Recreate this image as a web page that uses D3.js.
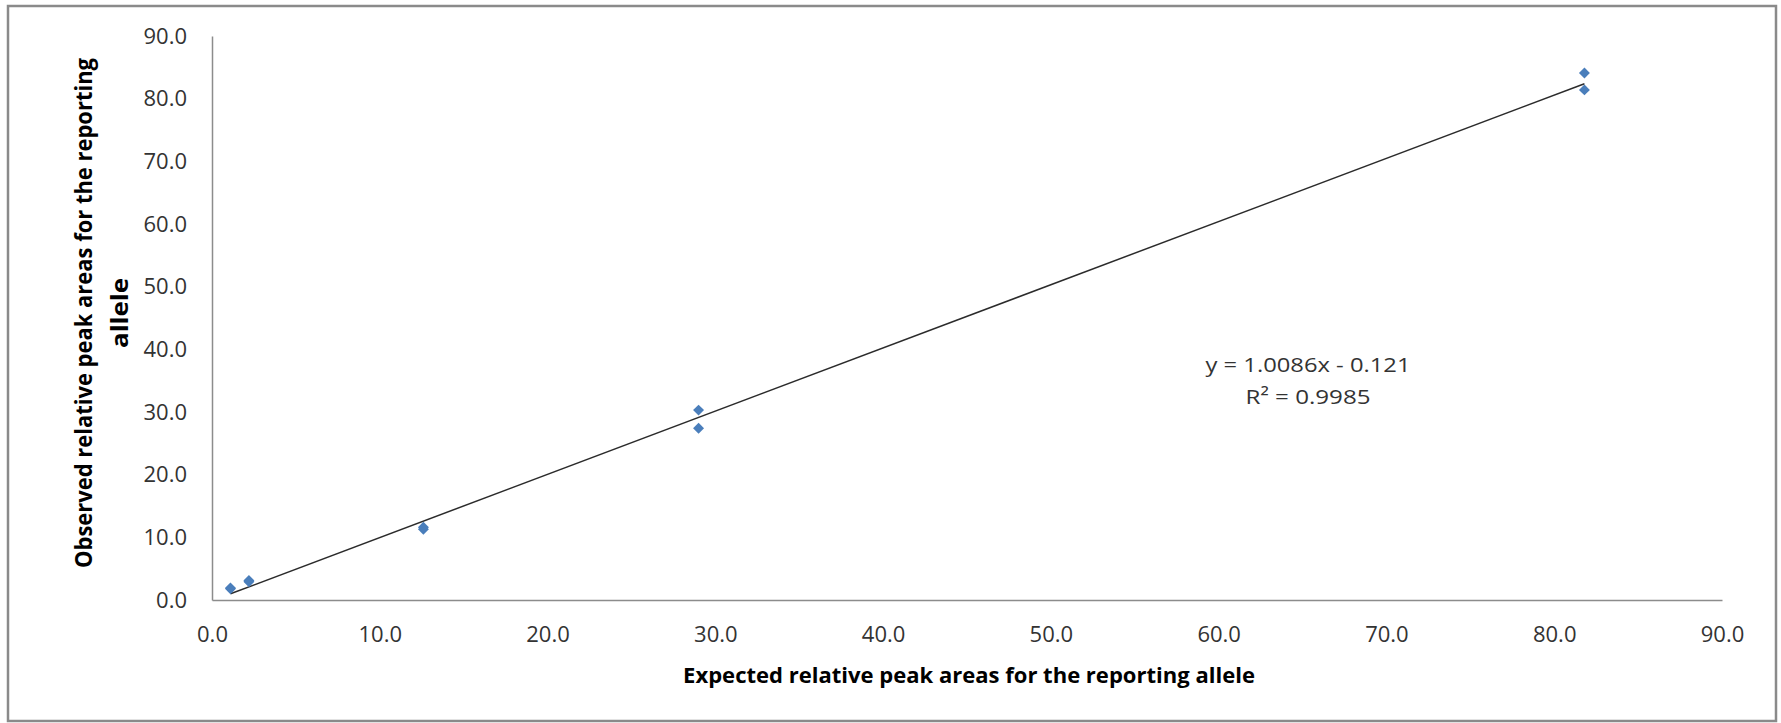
<!DOCTYPE html>
<html>
<head>
<meta charset="utf-8">
<script src="https://cdn.jsdelivr.net/npm/d3@7"></script>
<style>
  body { margin: 0; background: #fff; }
  .tick text { font-family: "Open Sans", sans-serif; fill: #333; }
  .axis-title { font-family: "Open Sans", sans-serif; font-weight: bold; fill: #000; }
  .eq-text { font-family: "Open Sans", sans-serif; fill: #333; }
</style>
</head>
<body>
<div id="chart"></div>
<script>
// chart size
var svgWidth = 1781;
var svgHeight = 723;

var margin = { top: 36, right: 59, bottom: 123, left: 212 };
var chartWidth = svgWidth - margin.left - margin.right;
var chartHeight = svgHeight - margin.top - margin.bottom;

// data
var expectedVals = [1.1, 1.1, 2.2, 2.2, 12.6, 12.6, 29.0, 29.0, 81.8, 81.8];
var observedVals = [1.8, 1.9, 2.9, 3.1, 11.3, 11.6, 30.3, 27.4, 84.1, 81.4];
var axisTicks = [0, 10, 20, 30, 40, 50, 60, 70, 80, 90];
var trendCoef = [1.0086, -0.121]; // slope, intercept
var eqLabels = ["y = 1.0086x - 0.121", "R\u00b2 = 0.9985"];
var xTitle = "Expected relative peak areas for the reporting allele";
var yTitleLines = ["Observed relative peak areas for the reporting", "allele"];

var svg = d3.select("#chart")
  .append("svg")
  .attr("width", svgWidth)
  .attr("height", svgHeight);

// outer frame
svg.append("rect")
  .attr("x", 8)
  .attr("y", 6)
  .attr("width", 1768)
  .attr("height", 715)
  .attr("fill", "none")
  .attr("stroke", "#8a8a8a")
  .attr("stroke-width", 2.5);

var chartGroup = svg.append("g")
  .attr("transform", `translate(${margin.left}, ${margin.top})`);

var xScale = d3.scaleLinear().domain([0, 90]).range([0, chartWidth]);
var yScale = d3.scaleLinear().domain([0, 90]).range([chartHeight, 0]);

var fmt = d3.format(".1f");

var xAxis = d3.axisBottom(xScale).tickValues(axisTicks).tickFormat(fmt)
  .tickSize(0).tickPadding(26);
var yAxis = d3.axisLeft(yScale).tickValues(axisTicks).tickFormat(fmt)
  .tickSize(0).tickPadding(25);

var gx = chartGroup.append("g")
  .attr("transform", `translate(0, ${chartHeight})`)
  .call(xAxis);
var gy = chartGroup.append("g")
  .call(yAxis);

[gx, gy].forEach(function(g) {
  g.select(".domain").attr("stroke", "#8c8c8c").attr("stroke-width", 1.5);
  g.selectAll(".tick text").style("font-size", "22px");
});

// trend line across the data range
var xExt = d3.extent(expectedVals);
var trendPts = xExt.map(function(x) { return [x, trendCoef[0] * x + trendCoef[1]]; });
chartGroup.append("path")
  .datum(trendPts)
  .attr("fill", "none")
  .attr("stroke", "#2b2b2b")
  .attr("stroke-width", 1.5)
  .attr("d", d3.line().x(d => xScale(d[0])).y(d => yScale(d[1])));

// diamond markers
var pts = expectedVals.map(function(x, i) { return { x: x, y: observedVals[i] }; });
chartGroup.append("g").selectAll("path")
  .data(pts)
  .enter()
  .append("path")
  .attr("d", d3.symbol().type(d3.symbolSquare).size(60))
  .attr("transform", d => `translate(${xScale(d.x)}, ${yScale(d.y)}) rotate(45)`)
  .attr("fill", "#4a7ebb");

// equation label
chartGroup.append("g").selectAll("text")
  .data(eqLabels)
  .enter()
  .append("text")
  .attr("class", "eq-text")
  .attr("x", 1096)
  .attr("y", (d, i) => 336 + i * 32)
  .attr("text-anchor", "middle")
  .style("font-size", "20px")
  .attr("textLength", (d, i) => i === 0 ? 205 : 125)
  .attr("lengthAdjust", "spacingAndGlyphs")
  .text(d => d);

// squeeze a title horizontally so it fits the width seen in the picture
function fitText(sel, target, pre) {
  sel.each(function(d, i) {
    var len = this.getComputedTextLength();
    var t = typeof target === "function" ? target(d, i) : target;
    var p = typeof pre === "function" ? pre(d, i) : pre;
    d3.select(this).attr("transform", `${p} scale(${t / len}, 1)`);
  });
}

// x axis title
var xt = svg.append("text")
  .attr("class", "axis-title")
  .attr("text-anchor", "middle")
  .style("font-size", "21px")
  .text(xTitle);
fitText(xt, 572, "translate(969, 683)");

// y axis title, two lines
var yt = svg.append("g").selectAll("text")
  .data(yTitleLines)
  .enter()
  .append("text")
  .attr("class", "axis-title")
  .attr("text-anchor", "middle")
  .style("font-size", "24px")
  .text(d => d);
fitText(yt, (d, i) => i === 0 ? 510 : 70, (d, i) => `translate(${92 + i * 36}, 313) rotate(-90)`);
</script>
</body>
</html>
